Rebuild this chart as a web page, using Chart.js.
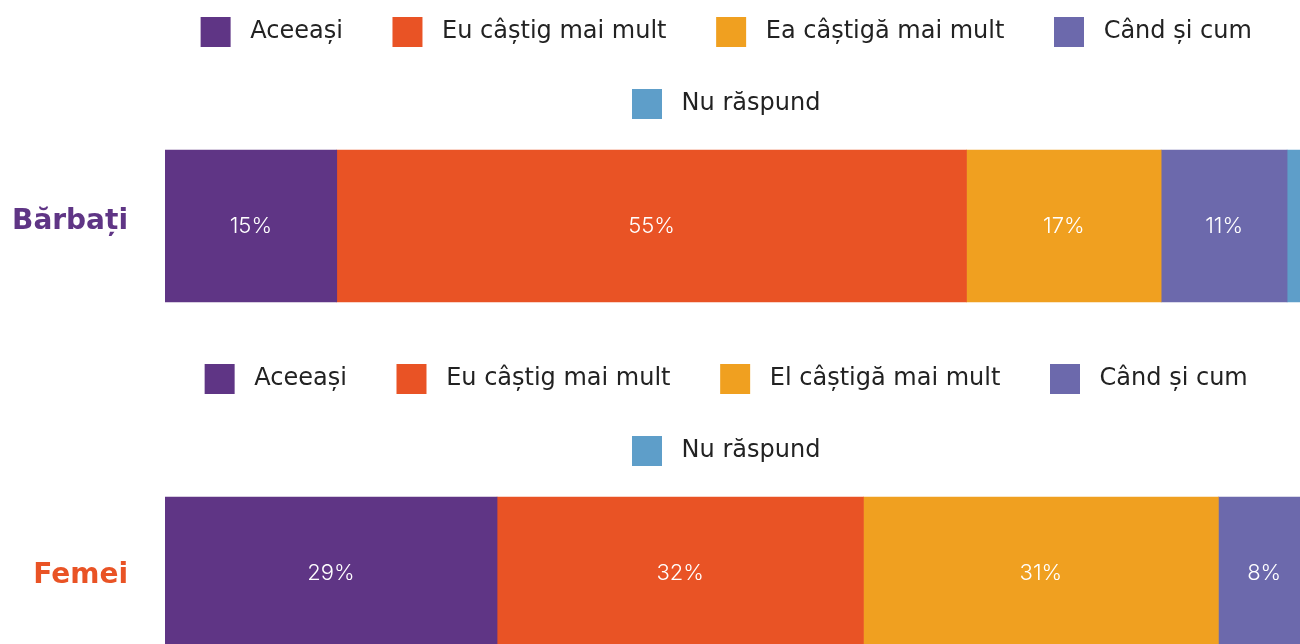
<!DOCTYPE html>
<html lang="ro">
<head>
    <meta charset="UTF-8">
    <title>Venituri</title>
    <style>
        html, body {
            margin: 0;
            padding: 0;
            background: #fff;
            overflow: hidden;
        }

        body {
            width: 1300px;
            height: 644px;
            position: relative;
        }

        /* canvases are wider than the window: the bars run off the right edge like in the original */
        .chart-box {
            position: absolute;
            left: 0;
            width: 1460px;
            height: 352px;
        }

        #box-top { top: -25px; }
        #box-bottom { top: 322px; }
    </style>
</head>
<body>
<div class="chart-box" id="box-top"><canvas id="chart-top"></canvas></div>
<div class="chart-box" id="box-bottom"><canvas id="chart-bottom"></canvas></div>

<script src="https://cdn.jsdelivr.net/npm/chart.js@4.4.1/dist/chart.umd.min.js"></script>
<script>
    const categoriesTop = ["Bărbați"];
    const categoriesBottom = ["Femei"];

    const seriesTop = ["Aceeași", "Eu câștig mai mult", "Ea câștigă mai mult", "Când și cum", "Nu răspund"];
    const seriesBottom = ["Aceeași", "Eu câștig mai mult", "El câștigă mai mult", "Când și cum", "Nu răspund"];

    const valuesBarbati = [15, 55, 17, 11, 2];
    const valuesFemei = [29, 32, 31, 8, 0];

    const colors = ["#5f3585", "#e95325", "#f0a020", "#6c69ac", "#5e9ec9"];
    const font = "DejaVu Sans";

    // white percentages in the middle of each segment
    const barLabels = {
        id: "barLabels",
        afterDatasetsDraw(chart) {
            const ctx = chart.ctx;
            ctx.save();
            ctx.fillStyle = "#fff";
            ctx.font = "300 22px Inter";
            ctx.textAlign = "center";
            ctx.textBaseline = "middle";
            chart.data.datasets.forEach((ds, i) => {
                chart.getDatasetMeta(i).data.forEach((bar, j) => {
                    const v = ds.data[j];
                    if (v < 3) return;
                    ctx.fillText(v + "%", (bar.x + bar.base) / 2, bar.y);
                });
            });
            ctx.restore();
        }
    };

    // legend centred over x 150..1310 rather than the whole canvas
    const legendShift = {
        id: "legendShift",
        afterLayout(chart) {
            chart.legend.left = 150;
        }
    };

    function makeChart(id, categories, series, values, labelColor, labelShift) {
        return new Chart(id, {
            type: "bar",
            data: {
                labels: categories,
                datasets: series.map((name, i) => ({
                    label: name,
                    data: [values[i]],
                    backgroundColor: colors[i],
                    borderWidth: 0,
                    barThickness: 152
                }))
            },
            options: {
                indexAxis: "y",
                responsive: true,
                maintainAspectRatio: false,
                animation: false,
                layout: {
                    autoPadding: false,
                    padding: {left: 0, right: 150, top: 0, bottom: 4}
                },
                plugins: {
                    tooltip: {enabled: false},
                    legend: {
                        position: "top",
                        labels: {
                            boxWidth: 30,
                            boxHeight: 30,
                            padding: 42,
                            color: "#222",
                            font: {family: font, size: 24},
                            // spaces widen the box-to-text gap and the gap between items
                            generateLabels: chart =>
                                Chart.defaults.plugins.legend.labels.generateLabels(chart)
                                    .map(l => ({...l, text: " " + l.text + " ", lineWidth: 0}))
                        }
                    }
                },
                scales: {
                    x: {
                        stacked: true,
                        min: 0,
                        max: 100,
                        display: false
                    },
                    y: {
                        stacked: true,
                        grid: {display: false, drawTicks: false},
                        border: {display: false},
                        afterFit: scale => {
                            scale.width = 165;
                            scale.paddingTop = 0;
                            scale.paddingBottom = 0;
                        },
                        ticks: {
                            padding: 37,
                            labelOffset: labelShift,
                            color: labelColor,
                            font: {family: font, size: 28, weight: "bold"}
                        }
                    }
                }
            },
            plugins: [barLabels, legendShift]
        });
    }

    makeChart("chart-top", categoriesTop, seriesTop, valuesBarbati, "#5f3585", -4);
    makeChart("chart-bottom", categoriesBottom, seriesBottom, valuesFemei, "#e95325", 3);
</script>
</body>
</html>
